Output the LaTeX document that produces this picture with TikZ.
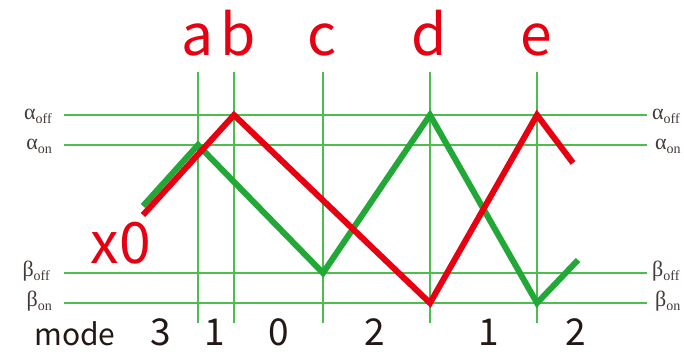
\documentclass[tikz,border=0pt]{standalone}
\usepackage{fontspec}
\setmainfont{Liberation Serif}
\newfontfamily\gothic{Noto Sans CJK JP}
\definecolor{gridg}{HTML}{4DBE4D}
\definecolor{thickg}{HTML}{22A836}
\definecolor{redc}{HTML}{E60012}
\definecolor{inkc}{HTML}{231815}
\newcommand{\lvltext}[2]{#1\raisebox{-3.5pt}{\fontsize{14}{15}\selectfont #2}}
\begin{document}
\begin{tikzpicture}[x=1pt,y=-1pt,
  gridline/.style={draw=gridg,line width=1.4pt},
  wave/.style={line width=6pt,line join=miter,miter limit=20,line cap=butt},
  letter/.style={text=redc,font=\gothic\fontsize{57}{60}\selectfont,anchor=base,inner sep=0pt},
  modelbl/.style={text=inkc,font=\gothic\fontsize{37}{40}\selectfont,anchor=base,inner sep=0pt},
  lvl/.style={text=inkc!85,font=\fontsize{22}{24}\selectfont,inner sep=0pt}]
\useasboundingbox (0,0) rectangle (684,352);
\fill[white] (0,0) rectangle (684,352);
% level lines
\foreach \n/\y in {aoff/115,aon/145,boff/273,bon/303}{
  \coordinate (\n L) at (64,\y);
  \coordinate (\n R) at (647,\y);
  \draw[gridline] (\n L) -- (\n R);
}
% vertical lines
\foreach \n/\x in {a/198,b/234,c/323,d/430,e/537}{
  \coordinate (\n T) at (\x,72);
  \coordinate (\n B) at (\x,323);
  \draw[gridline] (\n T) -- (\n B);
}
% waves
\coordinate (g0) at (143,206);
\coordinate (g1) at (198,145);
\coordinate (g2) at (323,273);
\coordinate (g3) at (430,115);
\coordinate (g4) at (537,303);
\coordinate (g5) at (578,260);
\draw[wave,draw=thickg] (g0) -- (g1) -- (g2) -- (g3) -- (g4) -- (g5);
\coordinate (r0) at (143,215);
\coordinate (r1) at (234,115);
\coordinate (r2) at (430,303);
\coordinate (r3) at (537,115);
\coordinate (r4) at (573,163);
\draw[wave,draw=redc] (r0) -- (r1) -- (r2) -- (r3) -- (r4);
% top letters
\node[letter] (la) at (198,56) {a};
\node[letter] (lb) at (238,56) {b};
\node[letter] (lc) at (322,56) {c};
\node[letter] (ld) at (429,56) {d};
\node[letter] (le) at (536,56) {e};
\node[letter] (x0) at (121,263) {x0};
% mode row
\node[modelbl,font=\gothic\fontsize{30}{32}\selectfont] (mode) at (75,345) {mode};
\node[modelbl] (m1) at (161,345) {3};
\node[modelbl] (m2) at (215,345) {1};
\node[modelbl] (m3) at (279,345) {0};
\node[modelbl] (m4) at (375,345) {2};
\node[modelbl] (m5) at (489,345) {1};
\node[modelbl] (m6) at (576,345) {2};
% level labels
\node[lvl,anchor=base east] (laoff) at (52,120) {\lvltext{α}{off}};
\node[lvl,anchor=base east] (laon) at (52,150) {\lvltext{α}{on}};
\node[lvl,anchor=base east] (lboff) at (50,276.5) {\lvltext{β}{off}};
\node[lvl,anchor=base east] (lbon) at (52,306.5) {\lvltext{β}{on}};
\node[lvl,anchor=base west] (raoff) at (652,120) {\lvltext{α}{off}};
\node[lvl,anchor=base west] (raon) at (655,150) {\lvltext{α}{on}};
\node[lvl,anchor=base west] (rboff) at (652,276.5) {\lvltext{β}{off}};
\node[lvl,anchor=base west] (rbon) at (655,306.5) {\lvltext{β}{on}};
\end{tikzpicture}
\end{document}
